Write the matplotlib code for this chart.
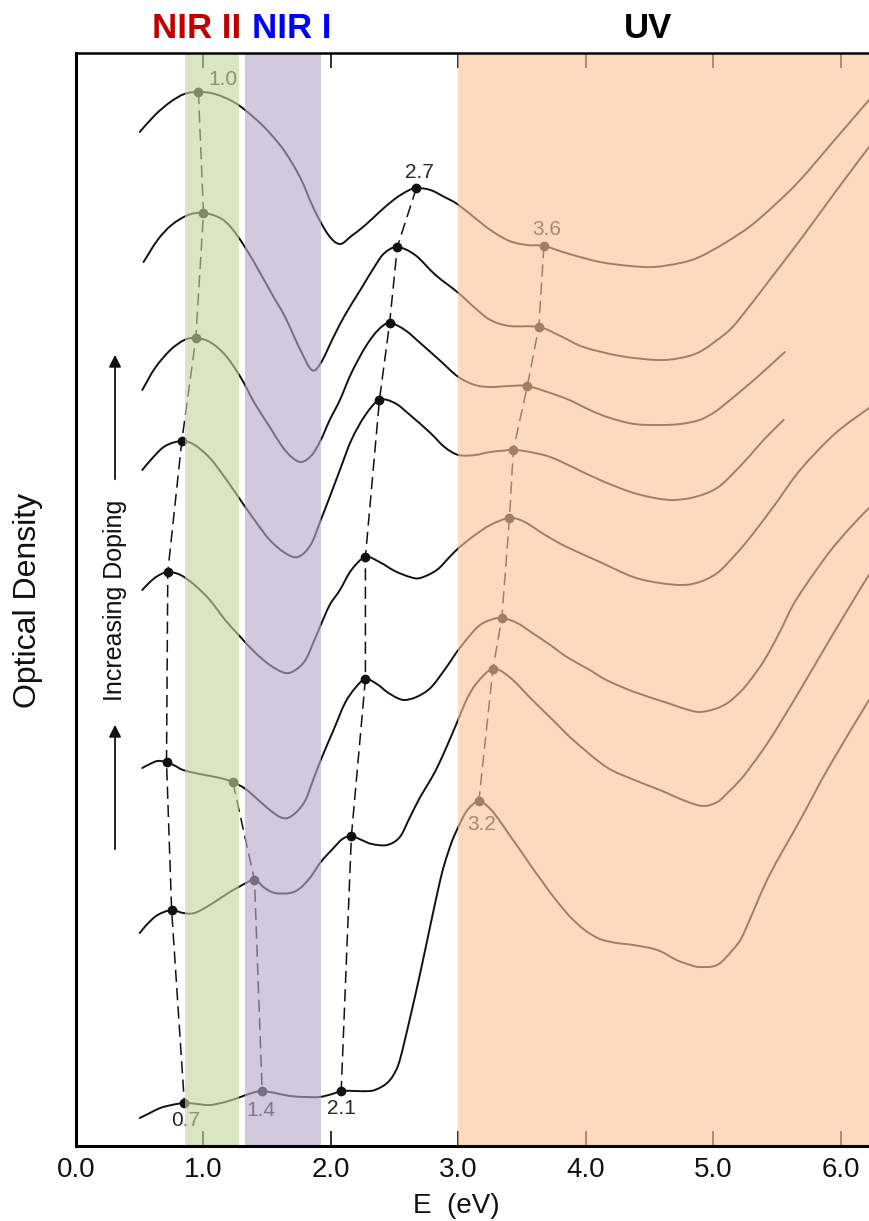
import numpy as np
import matplotlib.pyplot as plt
from matplotlib.path import Path
from matplotlib.patches import PathPatch

plt.rcParams['font.family'] = ['Liberation Sans', 'DejaVu Sans']

## spectra (top = most doped)
e1 = [0.50, 0.62, 0.74, 0.85, 0.96, 1.09, 1.25, 1.40, 1.52, 1.64, 1.76, 1.87, 1.98, 2.07, 2.16, 2.27, 2.38,
      2.50, 2.60, 2.67, 2.78, 2.89, 2.99, 3.13, 3.25, 3.40, 3.54, 3.67, 3.87, 4.11, 4.35, 4.53, 4.74, 4.89,
      5.09, 5.29, 5.48, 5.68, 5.95, 6.22]
od1 = [10.14, 10.31, 10.44, 10.52, 10.54, 10.52, 10.43, 10.28, 10.13, 9.94, 9.68, 9.36, 9.11, 9.02, 9.10,
       9.21, 9.34, 9.47, 9.55, 9.58, 9.56, 9.49, 9.42, 9.28, 9.16, 9.05, 9.01, 9.00, 8.92, 8.84, 8.80, 8.79,
       8.83, 8.89, 9.03, 9.20, 9.41, 9.66, 10.06, 10.46]

e2 = [0.53, 0.64, 0.75, 0.88, 1.00, 1.13, 1.22, 1.33, 1.44, 1.55, 1.64, 1.76, 1.85, 1.92, 2.02, 2.11, 2.23,
      2.35, 2.42, 2.52, 2.66, 2.82, 3.00, 3.13, 3.25, 3.40, 3.63, 3.80, 3.98, 4.27, 4.56, 4.74, 4.89, 5.05,
      5.15, 5.29, 5.44, 5.68, 5.95, 6.22]
od2 = [8.84, 9.06, 9.21, 9.31, 9.33, 9.28, 9.18, 8.98, 8.74, 8.49, 8.29, 7.96, 7.76, 7.83, 8.09, 8.31, 8.56,
       8.81, 8.93, 8.99, 8.91, 8.71, 8.53, 8.38, 8.26, 8.20, 8.19, 8.10, 7.99, 7.90, 7.86, 7.88, 7.94, 8.08,
       8.19, 8.41, 8.66, 9.06, 9.53, 9.99]

e3 = [0.52, 0.62, 0.74, 0.85, 0.94, 1.05, 1.17, 1.29, 1.40, 1.52, 1.62, 1.70, 1.77, 1.85, 1.92, 1.99, 2.07,
      2.16, 2.27, 2.37, 2.46, 2.58, 2.70, 2.85, 3.00, 3.13, 3.25, 3.40, 3.54, 3.72, 3.87, 4.03, 4.19, 4.38,
      4.58, 4.74, 4.89, 5.01, 5.13, 5.29, 5.44, 5.56]
od3 = [7.56, 7.78, 7.96, 8.06, 8.08, 8.04, 7.91, 7.69, 7.43, 7.19, 6.99, 6.88, 6.84, 6.91, 7.06, 7.26, 7.46,
       7.73, 7.99, 8.16, 8.23, 8.16, 8.03, 7.86, 7.69, 7.61, 7.59, 7.60, 7.60, 7.53, 7.46, 7.36, 7.28, 7.22,
       7.21, 7.22, 7.26, 7.34, 7.46, 7.63, 7.80, 7.94]

e4 = [0.52, 0.60, 0.70, 0.83, 0.93, 1.05, 1.17, 1.29, 1.40, 1.52, 1.64, 1.74, 1.84, 1.92, 1.99, 2.07, 2.16,
      2.27, 2.38, 2.50, 2.62, 2.78, 2.89, 3.00, 3.13, 3.25, 3.43, 3.56, 3.72, 3.91, 4.11, 4.35, 4.54, 4.68,
      4.82, 4.95, 5.05, 5.15, 5.29, 5.40, 5.55]
od4 = [6.76, 6.88, 7.00, 7.05, 7.01, 6.88, 6.68, 6.46, 6.26, 6.06, 5.93, 5.89, 6.01, 6.26, 6.49, 6.76, 7.06,
       7.31, 7.46, 7.43, 7.31, 7.13, 6.99, 6.91, 6.91, 6.94, 6.96, 6.94, 6.89, 6.78, 6.66, 6.54, 6.48, 6.46,
       6.48, 6.53, 6.60, 6.72, 6.91, 7.07, 7.26]

e5 = [0.52, 0.58, 0.64, 0.72, 0.82, 0.93, 1.05, 1.17, 1.29, 1.40, 1.52, 1.64, 1.72, 1.80, 1.87, 1.92, 1.99,
      2.07, 2.16, 2.27, 2.38, 2.50, 2.62, 2.70, 2.83, 2.93, 3.01, 3.13, 3.25, 3.40, 3.52, 3.68, 3.85, 4.11,
      4.37, 4.58, 4.76, 4.89, 5.03, 5.17, 5.29, 5.48, 5.68, 5.95, 6.22]
od5 = [5.56, 5.64, 5.70, 5.74, 5.71, 5.61, 5.46, 5.26, 5.09, 4.94, 4.81, 4.73, 4.76, 4.86, 5.06, 5.21, 5.41,
       5.56, 5.76, 5.89, 5.84, 5.75, 5.69, 5.68, 5.76, 5.89, 5.99, 6.11, 6.21, 6.28, 6.24, 6.11, 5.99, 5.84,
       5.69, 5.63, 5.61, 5.64, 5.73, 5.91, 6.09, 6.41, 6.76, 7.12, 7.38]

e6 = [0.52, 0.58, 0.64, 0.71, 0.78, 0.84, 0.97, 1.13, 1.23, 1.33, 1.43, 1.52, 1.60, 1.66, 1.73, 1.80, 1.86,
      1.92, 2.02, 2.11, 2.19, 2.27, 2.36, 2.44, 2.52, 2.58, 2.67, 2.78, 2.89, 3.01, 3.15, 3.25, 3.34, 3.46,
      3.58, 3.72, 3.85, 4.03, 4.16, 4.38, 4.64, 4.78, 4.89, 5.01, 5.11, 5.21, 5.29, 5.40, 5.52, 5.62, 5.73,
      5.91, 6.07, 6.22]
od6 = [3.78, 3.82, 3.85, 3.84, 3.80, 3.76, 3.72, 3.68, 3.64, 3.57, 3.46, 3.36, 3.29, 3.28, 3.34, 3.46, 3.66,
       3.86, 4.16, 4.43, 4.58, 4.67, 4.62, 4.54, 4.48, 4.46, 4.49, 4.58, 4.76, 4.98, 5.19, 5.26, 5.28, 5.23,
       5.13, 5.01, 4.89, 4.76, 4.66, 4.54, 4.43, 4.37, 4.34, 4.37, 4.43, 4.54, 4.66, 4.86, 5.14, 5.40, 5.62,
       5.94, 6.18, 6.38]

e7 = [0.50, 0.56, 0.64, 0.75, 0.84, 0.93, 1.05, 1.17, 1.29, 1.40, 1.48, 1.56, 1.68, 1.76, 1.84, 1.92, 2.02,
      2.09, 2.16, 2.24, 2.32, 2.44, 2.54, 2.62, 2.70, 2.78, 2.85, 2.93, 2.99, 3.07, 3.15, 3.27, 3.40, 3.58,
      3.74, 3.90, 4.16, 4.38, 4.58, 4.78, 4.92, 5.03, 5.11, 5.21, 5.29, 5.44, 5.68, 5.91, 6.17, 6.22]
od7 = [2.13, 2.22, 2.31, 2.36, 2.33, 2.33, 2.41, 2.51, 2.60, 2.66, 2.58, 2.53, 2.53, 2.58, 2.69, 2.84, 2.98,
       3.07, 3.10, 3.06, 3.02, 3.01, 3.09, 3.29, 3.49, 3.66, 3.83, 4.06, 4.24, 4.48, 4.64, 4.77, 4.69, 4.46,
       4.26, 4.06, 3.79, 3.66, 3.56, 3.45, 3.40, 3.44, 3.53, 3.66, 3.79, 4.06, 4.56, 5.06, 5.61, 5.71]

e8 = [0.50, 0.58, 0.66, 0.75, 0.85, 0.95, 1.05, 1.17, 1.29, 1.38, 1.46, 1.56, 1.68, 1.80, 1.91, 2.01, 2.08,
      2.19, 2.31, 2.38, 2.44, 2.49, 2.54, 2.62, 2.70, 2.78, 2.85, 2.89, 2.95, 3.01, 3.07, 3.16, 3.25, 3.33,
      3.40, 3.50, 3.58, 3.66, 3.74, 3.87, 3.99, 4.11, 4.24, 4.37, 4.56, 4.71, 4.82, 4.89, 5.03, 5.15, 5.22,
      5.29, 5.44, 5.68, 5.91, 6.22]
od8 = [0.28, 0.33, 0.38, 0.41, 0.43, 0.42, 0.41, 0.44, 0.49, 0.53, 0.55, 0.53, 0.50, 0.49, 0.49, 0.52, 0.55,
       0.55, 0.55, 0.58, 0.63, 0.71, 0.86, 1.28, 1.73, 2.21, 2.62, 2.82, 3.05, 3.22, 3.36, 3.45, 3.37, 3.24,
       3.11, 2.93, 2.78, 2.64, 2.50, 2.30, 2.16, 2.07, 2.03, 2.01, 1.96, 1.86, 1.81, 1.79, 1.81, 1.96, 2.08,
       2.28, 2.71, 3.26, 3.80, 4.46]

spectra = [(e1, od1), (e2, od2), (e3, od3), (e4, od4), (e5, od5), (e6, od6), (e7, od7), (e8, od8)]

# peak positions, joined by dashed lines
peakA_e = [0.96, 1.00, 0.94, 0.83, 0.72, 0.71, 0.75, 0.85]
peakA_od = [10.54, 9.33, 8.08, 7.05, 5.74, 3.84, 2.36, 0.43]
peakB_e = [1.23, 1.40, 1.46]
peakB_od = [3.64, 2.66, 0.55]
peakC_e = [2.67, 2.52, 2.46, 2.38, 2.27, 2.27, 2.16, 2.08]
peakC_od = [9.58, 8.99, 8.23, 7.46, 5.89, 4.67, 3.10, 0.55]
peakD_e = [3.67, 3.63, 3.54, 3.43, 3.40, 3.34, 3.27, 3.16]
peakD_od = [9.00, 8.19, 7.60, 6.96, 6.28, 5.28, 4.77, 3.45]
peaks = [(peakA_e, peakA_od), (peakB_e, peakB_od), (peakC_e, peakC_od), (peakD_e, peakD_od)]

# peak labels
lab_text = ['1.0', '2.7', '3.6', '3.2', '0.7', '1.4', '2.1']
lab_e = [1.15, 2.69, 3.69, 3.18, 0.86, 1.45, 2.08]
lab_od = [10.66, 9.73, 9.16, 3.21, 0.25, 0.36, 0.38]

# spectral regions
regions = [(0.855, 1.278, (0.775, 0.84, 0.63)),   # NIR II
           (1.325, 1.92, (0.71, 0.66, 0.79)),     # NIR I
           (3.0, 6.3, (0.99, 0.77, 0.585))]       # UV

xticks = [0, 1, 2, 3, 4, 5, 6]
xticklabels = ['0.0', '1.0', '2.0', '3.0', '4.0', '5.0', '6.0']


# smooth path through the read points (Catmull-Rom drawn as Bezier segments)
def smooth_path(e, od):
    p = np.column_stack([e, od])
    q = np.vstack([p[0], p, p[-1]])
    verts = [p[0]]
    codes = [Path.MOVETO]
    for i in range(len(p) - 1):
        c1 = q[i + 1] + (q[i + 2] - q[i]) / 6
        c2 = q[i + 2] - (q[i + 3] - q[i + 1]) / 6
        verts += [c1, c2, q[i + 2]]
        codes += [Path.CURVE4] * 3
    return Path(verts, codes)


fig = plt.figure(figsize=(8.69, 12.21), dpi=100)
ax = fig.add_axes([76 / 869, 75 / 1221, 793 / 869, 1093 / 1221])

ink = '#111111'
for e, od in spectra:
    ax.add_patch(PathPatch(smooth_path(e, od), fill=False, edgecolor=ink, lw=1.4, zorder=1,
                           joinstyle='round', capstyle='round'))
for pe, pod in peaks:
    ax.plot(pe, pod, color=ink, lw=1.1, dashes=(8, 4), zorder=1.1)
    ax.plot(pe, pod, 'o', color=ink, ms=6, zorder=1.2)
for t, x, y in zip(lab_text, lab_e, lab_od):
    ax.text(x, y, t, ha='center', va='center', fontsize=15, color='#2a2a2a', zorder=1.3)

# coloured bands laid over the curves
for lo, hi, c in regions:
    ax.axvspan(lo, hi, color=c, alpha=0.62, lw=0, zorder=2)

# doping arrows
ax.annotate('', xy=(0.306, 7.94), xytext=(0.306, 6.64),
            arrowprops=dict(arrowstyle='-|>', color=ink, lw=1.3, mutation_scale=18))
ax.annotate('', xy=(0.306, 4.24), xytext=(0.306, 2.94),
            arrowprops=dict(arrowstyle='-|>', color=ink, lw=1.3, mutation_scale=18))
ax.text(0.306, 5.46, 'Increasing Doping', rotation=90, ha='center', va='center', fontsize=18, color=ink)

ax.set_xlim(0, 6.22)
ax.set_ylim(0, 10.93)
ax.set_xticks(xticks)
ax.set_xticklabels(xticklabels)
ax.set_yticks([])
ax.tick_params(axis='x', direction='in', length=11, width=1.2, top=True, labelsize=20, pad=8, colors=ink)
ax.spines['right'].set_visible(False)
for s in ['left', 'bottom']:
    ax.spines[s].set_linewidth(2.2)
ax.spines['top'].set_linewidth(1.8)

fig.text(456 / 869, 1 - 1213 / 1221, 'E  (eV)', ha='center', va='baseline', fontsize=20, color=ink)
fig.text(28 / 869, 1 - 600 / 1221, 'Optical Density', rotation=90, ha='center', va='center', fontsize=23, color=ink)

fig.text(197 / 869, 1 - 38 / 1221, 'NIR II', ha='center', va='baseline', fontsize=25, weight='bold', color='#C00000')
fig.text(292 / 869, 1 - 38 / 1221, 'NIR I', ha='center', va='baseline', fontsize=25, weight='bold', color='#0000FF')
fig.text(648 / 869, 1 - 38 / 1221, 'UV', ha='center', va='baseline', fontsize=25, weight='bold', color='black')

fig.savefig('out.png', dpi=100)
